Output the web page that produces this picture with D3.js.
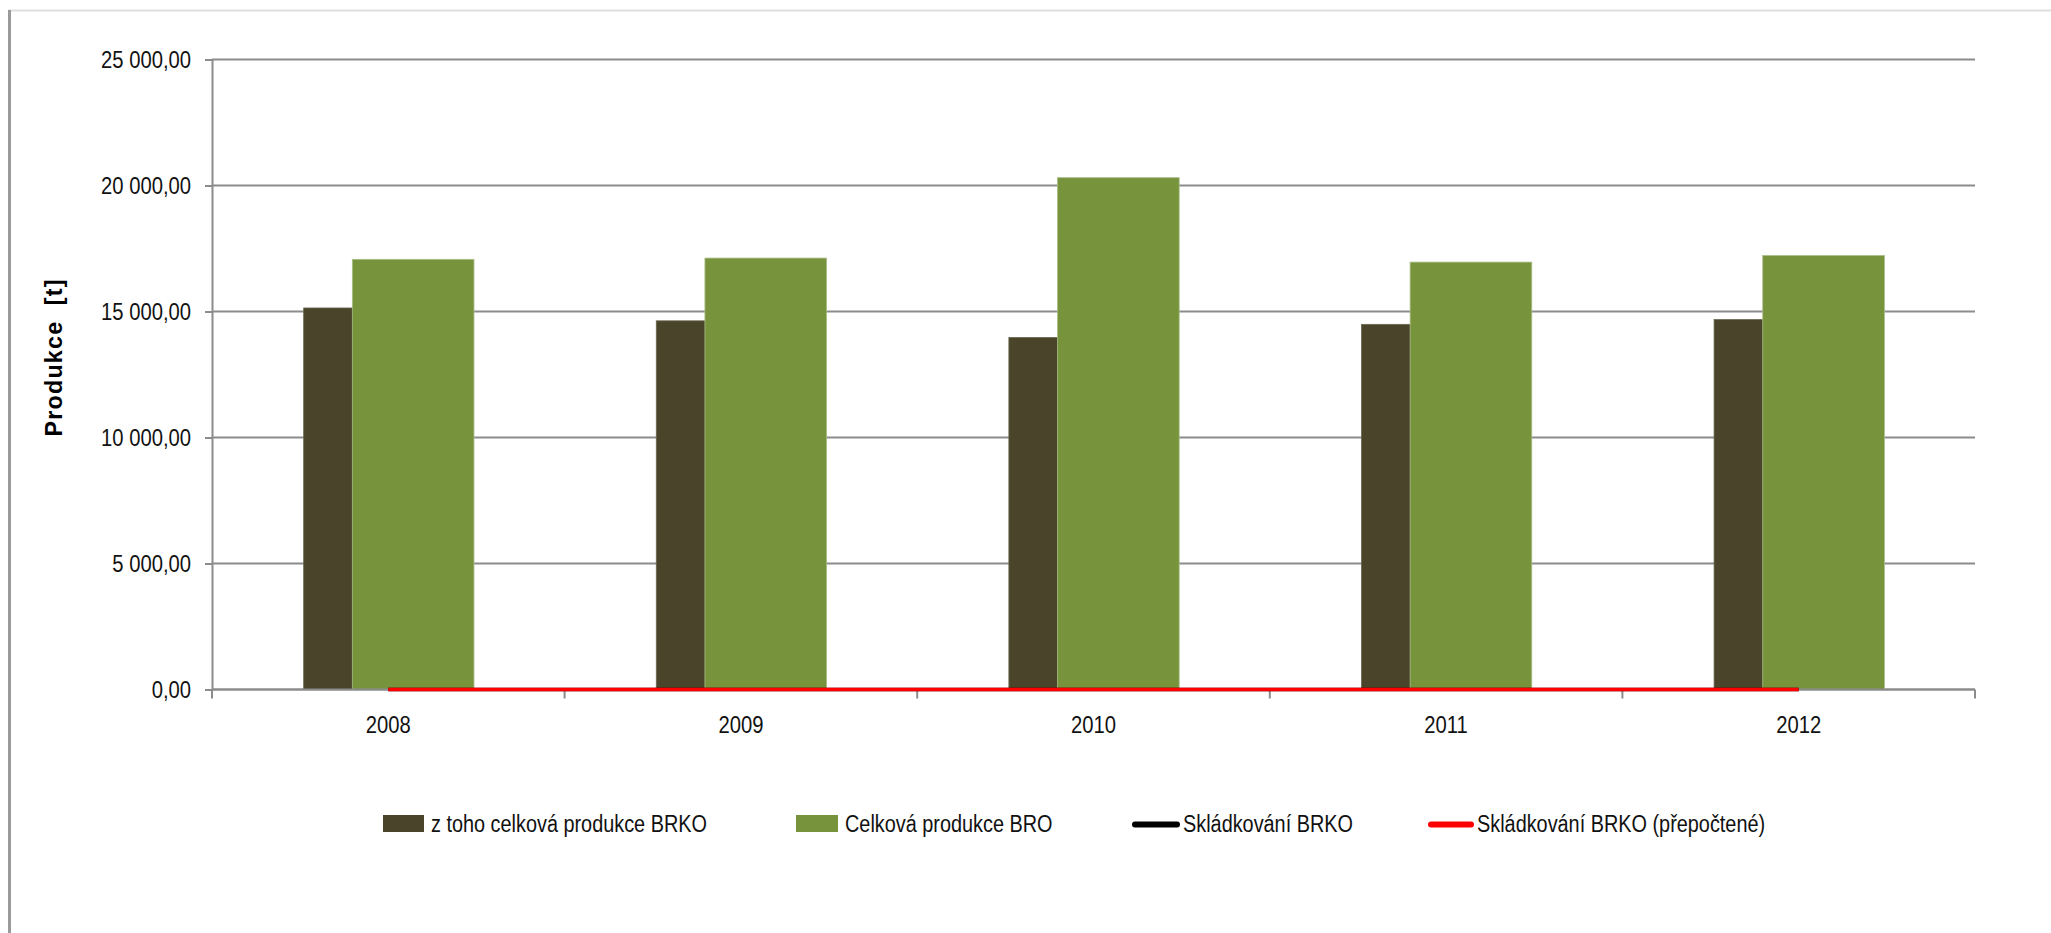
<!DOCTYPE html>
<html>
<head>
<meta charset="utf-8">
<script src="https://cdn.jsdelivr.net/npm/d3@7"></script>
<style>
  html, body { margin: 0; padding: 0; background: #fff; }
  svg { display: block; }
  .lbl { font-family: "Liberation Sans", Arial, sans-serif; font-size: 23.5px; fill: #111; }
</style>
</head>
<body>
<script>
// ---- data ----
const years = ["2008", "2009", "2010", "2011", "2012"];
const brkoTotal = [15140, 14630, 13970, 14490, 14680];      // z toho celková produkce BRKO
const broTotal = [17070, 17120, 20310, 16960, 17220];       // Celková produkce BRO
const skladkovani = [0, 0, 0, 0, 0];                        // Skládkování BRKO
const skladkovaniPrep = [0, 0, 0, 0, 0];                    // Skládkování BRKO (přepočtené)
const yTicks = [0, 5000, 10000, 15000, 20000, 25000];
const seriesNames = ["z toho celková produkce BRKO", "Celková produkce BRO", "Skládkování BRKO", "Skládkování BRKO (přepočtené)"];

const W = 2051, H = 933;
const svg = d3.select("body").append("svg").attr("width", W).attr("height", H);

// squeeze text horizontally to mimic a condensed face
function condense(sel, f) {
  sel.each(function () {
    const L = this.getComputedTextLength();
    d3.select(this).attr("textLength", L * f).attr("lengthAdjust", "spacingAndGlyphs");
  });
}

// frame
svg.append("line").attr("x1", 8).attr("x2", W).attr("y1", 10.5).attr("y2", 10.5)
  .attr("stroke", "#dedede").attr("stroke-width", 2);
svg.append("line").attr("x1", 9.5).attr("x2", 9.5).attr("y1", 10).attr("y2", H)
  .attr("stroke", "#9a9a9a").attr("stroke-width", 3);

const x = d3.scaleBand().domain(years).range([212, 1975]).padding(0);
const y = d3.scaleLinear().domain([0, 25000]).range([689.5, 59.5]);
const bw = x.bandwidth();

const fmt = d3.formatLocale({decimal: ",", thousands: " ", grouping: [3], currency: ["", ""]}).format(",.2f");

// gridlines
svg.append("g").selectAll("line").data(yTicks).join("line")
  .attr("x1", 212).attr("x2", 1975)
  .attr("y1", d => y(d)).attr("y2", d => y(d))
  .attr("stroke", "#8c8c8c").attr("stroke-width", 2);

// y axis
const yAxis = svg.append("g").attr("transform", "translate(212,0)")
  .call(d3.axisLeft(y).tickValues(yTicks).tickSize(7).tickPadding(14).tickFormat(fmt));
yAxis.select(".domain").attr("stroke", "#8c8c8c").attr("stroke-width", 2);
yAxis.selectAll(".tick line").attr("stroke", "#8c8c8c").attr("stroke-width", 2);
yAxis.selectAll(".tick text").attr("class", "lbl").attr("dy", "0.36em").call(condense, 0.86);

// bars
const brkoData = years.map((yr, i) => ({yr, v: brkoTotal[i]}));
const broData = years.map((yr, i) => ({yr, v: broTotal[i]}));
svg.append("g").selectAll("rect").data(brkoData).join("rect")
  .attr("x", d => x(d.yr) + 0.26 * bw)
  .attr("width", 0.14 * bw)
  .attr("y", d => y(d.v))
  .attr("height", d => y(0) - y(d.v))
  .attr("fill", "#4a452a").attr("stroke", "#6a6650").attr("stroke-width", 0.8);
svg.append("g").selectAll("rect").data(broData).join("rect")
  .attr("x", d => x(d.yr) + 0.398 * bw)
  .attr("width", 0.345 * bw)
  .attr("y", d => y(d.v))
  .attr("height", d => y(0) - y(d.v))
  .attr("fill", "#77933c").attr("stroke", "#a9bd86").attr("stroke-width", 0.8);

// x axis
const xAxisG = svg.append("g");
xAxisG.append("line").attr("x1", 212).attr("x2", 1975).attr("y1", y(0)).attr("y2", y(0))
  .attr("stroke", "#8c8c8c").attr("stroke-width", 2);
const boundaries = years.map(d => x(d)).concat([x(years[years.length - 1]) + bw]);
xAxisG.selectAll("line.tk").data(boundaries).join("line").attr("class", "tk")
  .attr("x1", d => d).attr("x2", d => d).attr("y1", y(0)).attr("y2", y(0) + 9)
  .attr("stroke", "#8c8c8c").attr("stroke-width", 2);
xAxisG.selectAll("text").data(years).join("text").attr("class", "lbl")
  .attr("x", d => x(d) + bw / 2).attr("y", 733).attr("text-anchor", "middle").text(d => d)
  .call(condense, 0.86);

// lines
const lineGen = d3.line().x(d => x(d.yr) + bw / 2).y(d => y(d.v));
svg.append("path").datum(years.map((yr, i) => ({yr, v: skladkovani[i]})))
  .attr("d", lineGen).attr("fill", "none").attr("stroke", "#000").attr("stroke-width", 3.5);
svg.append("path").datum(years.map((yr, i) => ({yr, v: skladkovaniPrep[i]})))
  .attr("d", lineGen).attr("fill", "none").attr("stroke", "#ff0000").attr("stroke-width", 3.5);

// y title
svg.append("text").attr("transform", "translate(61.5,358) rotate(-90)")
  .attr("text-anchor", "middle")
  .attr("textLength", 157).attr("lengthAdjust", "spacing")
  .style("font-family", "'Liberation Sans', Arial, sans-serif").style("font-weight", "bold")
  .style("font-size", "23.3px").style("fill", "#000").style("white-space", "pre")
  .text("Produkce  [t]");

// legend
const leg = svg.append("g");
const legItems = [
  {type: "rect", color: "#4a452a", x0: 383, x1: 424, tx: 431},
  {type: "rect", color: "#77933c", x0: 796, x1: 838, tx: 845},
  {type: "line", color: "#000000", x0: 1135, x1: 1177, tx: 1183},
  {type: "line", color: "#ff0000", x0: 1431, x1: 1471, tx: 1477}
];
legItems.forEach((it, i) => {
  if (it.type === "rect") {
    leg.append("rect").attr("x", it.x0).attr("y", 815).attr("width", it.x1 - it.x0).attr("height", 17)
      .attr("fill", it.color);
  } else {
    leg.append("line").attr("x1", it.x0).attr("x2", it.x1).attr("y1", 824.5).attr("y2", 824.5)
      .attr("stroke", it.color).attr("stroke-width", 6).attr("stroke-linecap", "round");
  }
  leg.append("text").attr("class", "lbl").attr("x", it.tx).attr("y", 832).text(seriesNames[i])
    .call(condense, 0.845);
});
</script>
</body>
</html>
